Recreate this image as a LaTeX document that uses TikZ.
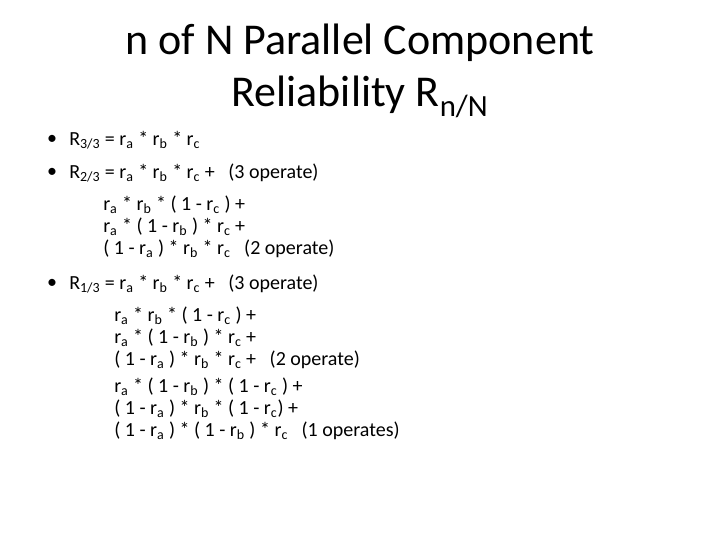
\documentclass[tikz,border=0pt]{standalone}
\usepackage{fontspec}
\setmainfont{Carlito}
\usetikzlibrary{positioning}
\newcommand{\rs}[1]{r\textsubscript{#1}}
\tikzset{line/.style={anchor=west, font=\fontsize{15}{17}\selectfont, inner sep=0pt},
  bul/.style={anchor=center, font=\fontsize{15}{17}\selectfont, inner sep=0pt},
  ttl/.style={font=\fontsize{33}{38}\selectfont, inner sep=0pt}}
\begin{document}
\begin{tikzpicture}[x=0.75pt, y=-0.75pt]
  \useasboundingbox (0,0) rectangle (720,540);
  \node[ttl] (title1) at (360,43) {n of N Parallel Component};
  \node[ttl] (title2) at (360,97) {Reliability R\textsubscript{n/N}};
  % bullets
  \node[bul] (b1) at (52,140) {•};
  \node[bul] (b2) at (52,173) {•};
  \node[bul] (b3) at (52,284) {•};
  \node[line] (l1) at (69,140) {R\textsubscript{3/3} = \rs{a} * \rs{b} * \rs{c}};
  \node[line] (l2) at (69,173) {R\textsubscript{2/3} = \rs{a} * \rs{b} * \rs{c} +\ \ \ (3 operate)};
  \node[line] (l3) at (103,205) {\rs{a} * \rs{b} * ( 1 - \rs{c} ) +};
  \node[line] (l4) at (103,227) {\rs{a} * ( 1 - \rs{b} ) * \rs{c} +};
  \node[line] (l5) at (103,249) {( 1 - \rs{a} ) * \rs{b} * \rs{c}\ \ \ (2 operate)};
  \node[line] (l6) at (69,284) {R\textsubscript{1/3} = \rs{a} * \rs{b} * \rs{c} +\ \ \ (3 operate)};
  \node[line] (l7) at (114,316) {\rs{a} * \rs{b} * ( 1 - \rs{c} ) +};
  \node[line] (l8) at (114,338) {\rs{a} * ( 1 - \rs{b} ) * \rs{c} +};
  \node[line] (l9) at (114,360) {( 1 - \rs{a} ) * \rs{b} * \rs{c} +\ \ \ (2 operate)};
  \node[line] (l10) at (114,387) {\rs{a} * ( 1 - \rs{b} ) * ( 1 - \rs{c} ) +};
  \node[line] (l11) at (114,409) {( 1 - \rs{a} ) * \rs{b} * ( 1 - \rs{c}) +};
  \node[line] (l12) at (114,431) {( 1 - \rs{a} ) * ( 1 - \rs{b} ) * \rs{c}\ \ \ (1 operates)};
\end{tikzpicture}
\end{document}
